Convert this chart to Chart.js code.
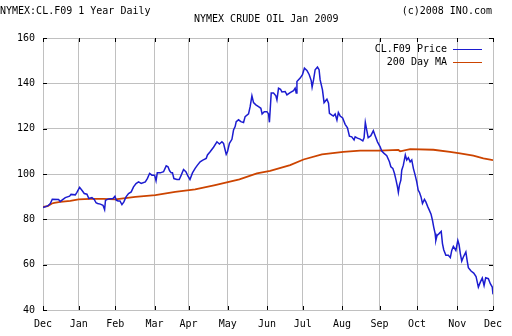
<!DOCTYPE html>
<html lang="en">
<head>
    <meta charset="UTF-8">
    <title>NYMEX Crude Oil Jan 2009</title>
    <script src="https://cdn.jsdelivr.net/npm/chart.js"></script>
    <style>
        body { margin: 0; background: #fff; font-family: 'DejaVu Sans Mono', monospace; }
        .wrap { position: relative; width: 512px; height: 336px; }
        .txt { position: absolute; font-size: 10px; color: #000; white-space: pre; line-height: 12px; }
        #chart { position: absolute; left: 0; top: 0; }
    </style>
</head>
<body>
    <div class="wrap">
        <canvas id="chart" width="512" height="336"></canvas>
        <div class="txt" style="left:0; top:5px;">NYMEX:CL.F09 1 Year Daily</div>
        <div class="txt" style="right:20px; top:5px;">(c)2008 INO.com</div>
        <div class="txt" style="left:194px; top:13px;">NYMEX CRUDE OIL Jan 2009</div>
    </div>
    <script>
        // month ticks, in trading days from the first Dec
        const monthTicks = [0, 20, 40.5, 62.5, 81.5, 103.5, 125.5, 145.5, 167.5, 188.5, 209.5, 232, 252];
        const monthLabels = ['Dec', 'Jan', 'Feb', 'Mar', 'Apr', 'May', 'Jun', 'Jul', 'Aug', 'Sep', 'Oct', 'Nov', 'Dec'];
        const yTicks = [40, 60, 80, 100, 120, 140, 160];

        // CL.F09 price
        const priceDays = [0, 2.6, 4.1, 5.2, 8.7, 9.7, 11.2, 12.5, 14.9, 15.7, 18.1, 19, 20.5, 22, 23.1, 24.6, 25.7, 27.4, 28.7, 29.7,
            30.6, 32.1, 33.6, 34.5, 35, 36.7, 39.2, 40.3, 41, 42, 43.1, 44.2, 45.3, 46.5, 47.9, 49.4, 50.7, 52.1, 53.5, 55,
            57.3, 58.5, 59.7, 61, 62.5, 63.3, 64, 65.7, 67.5, 69, 70, 70.9, 71.8, 72.5, 73.3, 75, 76.3, 77.4, 78.7, 80,
            81.2, 82.3, 83.7, 85.2, 86.5, 88, 89.5, 91.4, 92.1, 93.6, 95.5, 97.4, 98.8, 100.2, 101.1, 101.9, 102.6, 103.3, 104.4, 105.8,
            106.7, 107.6, 108.2, 109.5, 110.8, 112.3, 113.2, 115.1, 116, 117, 117.9, 119.2, 120.7, 122, 122.7, 123.9, 125.4, 126.3, 126.8, 127.8,
            129.1, 130.4, 131, 131.9, 133, 133.8, 135.6, 136.6, 138.4, 140.3, 141.2, 141.8, 142.2, 144, 145.3, 146.4, 147.8, 149.1, 150.2, 150.7,
            151.5, 152.4, 153.7, 154.6, 155.2, 156.5, 157.4, 159, 159.9, 160.4, 161.8, 162.6, 163.6, 164.6, 165.4, 166.4, 167.8, 169.2, 170.5, 171.6,
            172.9, 174.2, 174.8, 176.1, 177.6, 179.1, 179.8, 180.5, 181.3, 182.1, 183.6, 185, 186, 187.3, 188.8, 189.7, 191, 192.5, 194, 194.8,
            195.9, 196.8, 197.7, 198.5, 199, 199.6, 200.4, 200.9, 201.8, 202.9, 203.7, 204.6, 205.6, 206.5, 207.4, 208.4, 209.3, 210.1, 210.8, 211.7,
            212.5, 213.6, 214.4, 215.5, 216.2, 217.3, 218.1, 218.8, 219.6, 220, 220.7, 221.8, 223, 223.7, 224.4, 225.6, 227, 228.1, 228.9, 229.8,
            231.2, 232.3, 233, 233.7, 234.5, 235.4, 236.8, 237.5, 238.2, 239.7, 241.2, 242.5, 243.8, 244.9, 246, 247, 247.9, 249.4, 250.5, 251.6, 252];
        const priceValues = [85.2, 85.9, 87.0, 88.9, 88.8, 87.9, 88.8, 89.6, 90.2, 91.0, 90.8, 91.9, 94.1, 92.6, 91.4, 91.1, 89.2, 89.6, 88.8, 87.3,
            87.0, 86.7, 86.2, 84.3, 88.4, 89.0, 89.2, 90.2, 88.4, 88.1, 88.1, 86.5, 87.7, 89.9, 91.4, 92.1, 94.3, 95.8, 96.5, 95.8,
            96.5, 98.1, 100.3, 99.5, 99.5, 97.0, 100.5, 100.5, 101.0, 103.6, 103.2, 101.4, 100.5, 100.5, 98.0, 97.6, 97.6, 99.5, 102.0, 101.0,
            99.1, 97.6, 100.5, 102.5, 103.9, 105.4, 106.1, 106.9, 108.4, 109.8, 111.8, 114.2, 113.2, 114.2, 113.5, 110.9, 108.7, 109.8, 113.5, 115.3,
            119.4, 120.9, 123.1, 123.9, 123.1, 122.7, 125.3, 126.5, 129.7, 134.5, 131.5, 130.5, 129.7, 129.0, 126.5, 127.5, 127.5, 126.5, 122.8, 135.7,
            135.7, 134.5, 132.7, 137.9, 137.4, 136.2, 136.4, 134.9, 135.9, 136.8, 137.9, 135.7, 140.8, 142.3, 143.8, 146.7, 145.7, 143.8, 141.2, 138.3,
            141.5, 146.0, 147.2, 146.0, 141.5, 137.1, 131.5, 133.0, 131.2, 126.8, 126.0, 125.6, 126.5, 123.8, 127.1, 125.6, 124.7, 121.9, 120.4, 116.7,
            116.4, 115.0, 116.4, 115.8, 115.4, 114.6, 116.0, 122.8, 119.4, 116.0, 116.9, 119.1, 116.9, 114.2, 112.0, 110.1, 109.1, 108.1, 105.4, 103.2,
            102.5, 100.3, 97.3, 94.3, 91.9, 95.1, 97.3, 101.7, 103.9, 108.4, 106.2, 107.2, 105.4, 106.2, 102.5, 99.5, 96.5, 92.9, 91.9, 89.9,
            87.0, 88.8, 87.7, 85.5, 84.3, 82.3, 79.6, 76.6, 73.7, 70.7, 72.9, 73.7, 74.7, 69.3, 66.6, 64.1, 64.1, 63.1, 66.3, 68.1,
            66.3, 70.7, 68.8, 64.9, 61.6, 63.4, 65.6, 61.9, 58.7, 57.2, 56.3, 54.8, 50.1, 52.3, 54.1, 50.8, 54.2, 53.8, 51.6, 50.1, 46.9];

        // 200 day moving average
        const maDays = [0, 2.6, 5, 6.3, 9.7, 15.3, 19.9, 26.5, 33.9, 40.5, 51.7, 62.9, 74, 85.2, 96.4, 110, 119.8, 127.2, 138.4, 145.9,
            156.2, 168.2, 177.6, 188.8, 199, 200, 205.6, 218.6, 227.9, 233.5, 241, 246.6, 252];
        const maValues = [85.5, 85.8, 87.0, 87.3, 87.7, 88.1, 88.8, 89.0, 89.0, 88.8, 89.9, 90.7, 92.1, 93.2, 95.1, 97.6, 100.3, 101.4, 103.9, 106.4,
            108.7, 109.8, 110.3, 110.3, 110.6, 110.0, 111.0, 110.7, 109.8, 109.1, 108.1, 106.9, 106.1];

        const seriesLabels = ['CL.F09 Price', '200 Day MA'];
        const seriesColors = ['#1c1cd0', '#cc4400'];

        Chart.defaults.font.family = "'DejaVu Sans Mono', monospace";
        Chart.defaults.font.size = 10;
        Chart.defaults.color = '#000';

        // short black tick marks pointing into the plot on all four sides
        const innerTicks = {
            id: 'innerTicks',
            afterDatasetsDraw(chart) {
                const { ctx, chartArea: a, scales: { x, y } } = chart;
                ctx.save();
                ctx.strokeStyle = '#000';
                ctx.lineWidth = 1;
                ctx.beginPath();
                monthTicks.forEach(v => {
                    const px = Math.round(x.getPixelForValue(v)) + 0.5;
                    ctx.moveTo(px, a.bottom); ctx.lineTo(px, a.bottom - 4);
                    ctx.moveTo(px, a.top); ctx.lineTo(px, a.top + 4);
                });
                yTicks.forEach(v => {
                    const py = Math.round(y.getPixelForValue(v)) + 0.5;
                    ctx.moveTo(a.left, py); ctx.lineTo(a.left + 4, py);
                    ctx.moveTo(a.right, py); ctx.lineTo(a.right - 4, py);
                });
                ctx.stroke();
                ctx.restore();
            }
        };

        // legend in the top right corner: label then line sample
        const cornerLegend = {
            id: 'cornerLegend',
            afterDraw(chart) {
                const { ctx } = chart;
                ctx.save();
                ctx.font = "10px 'DejaVu Sans Mono', monospace";
                ctx.textAlign = 'right';
                ctx.textBaseline = 'middle';
                chart.data.datasets.forEach((ds, i) => {
                    const yy = 49 + i * 13;
                    ctx.fillStyle = '#000';
                    ctx.fillText(ds.label, 447, yy);
                    ctx.strokeStyle = ds.borderColor;
                    ctx.lineWidth = 1;
                    ctx.beginPath();
                    ctx.moveTo(453, yy + 0.5);
                    ctx.lineTo(482, yy + 0.5);
                    ctx.stroke();
                });
                ctx.restore();
            }
        };

        new Chart(document.getElementById('chart'), {
            type: 'line',
            data: {
                datasets: [{
                    label: seriesLabels[0],
                    data: priceDays.map((d, i) => ({ x: d, y: priceValues[i] })),
                    borderColor: seriesColors[0],
                    borderWidth: 1.5,
                    pointRadius: 0,
                    tension: 0
                }, {
                    label: seriesLabels[1],
                    data: maDays.map((d, i) => ({ x: d, y: maValues[i] })),
                    borderColor: seriesColors[1],
                    borderWidth: 1.8,
                    pointRadius: 0,
                    tension: 0
                }]
            },
            options: {
                responsive: false,
                animation: false,
                layout: { padding: { top: 38, right: 19, left: 0, bottom: 0 } },
                plugins: { legend: { display: false }, tooltip: { enabled: false } },
                scales: {
                    x: {
                        type: 'linear',
                        min: 0,
                        max: 252,
                        afterBuildTicks: s => { s.ticks = monthTicks.map(v => ({ value: v })); },
                        afterFit: s => { s.height = 26; },
                        ticks: {
                            autoSkip: false,
                            maxRotation: 0,
                            padding: 8,
                            callback: (v, i) => monthLabels[i]
                        },
                        grid: { color: '#c0c0c0', drawTicks: false },
                        border: { color: '#c0c0c0' }
                    },
                    y: {
                        min: 40,
                        max: 160,
                        afterBuildTicks: s => { s.ticks = yTicks.map(v => ({ value: v })); },
                        afterFit: s => { s.width = 43; },
                        ticks: { padding: 8 },
                        grid: { color: '#c0c0c0', drawTicks: false },
                        border: { color: '#c0c0c0' }
                    }
                }
            },
            plugins: [innerTicks, cornerLegend]
        });
    </script>
</body>
</html>
